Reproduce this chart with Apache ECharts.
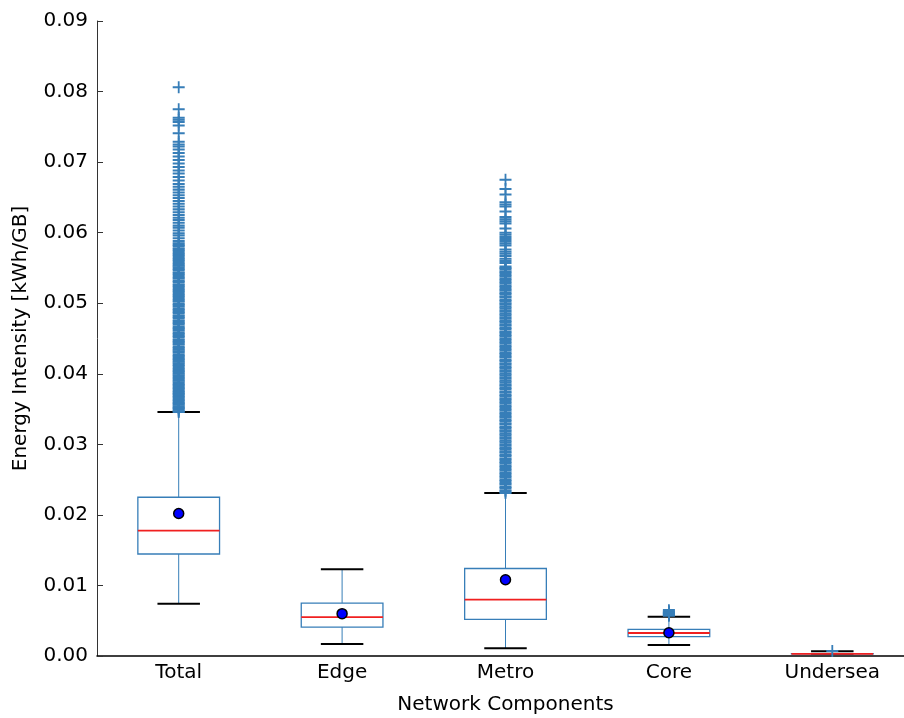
<!DOCTYPE html>
<html>
<head>
<meta charset="utf-8">
<script src="https://cdn.jsdelivr.net/npm/echarts@6/dist/echarts.min.js"></script>
<style>html,body{margin:0;padding:0;background:#fff}#c{width:904px;height:718px}</style>
</head>
<body>
<div id="c"></div>
<script>
const categories = ['Total', 'Edge', 'Metro', 'Core', 'Undersea'];
const yTicks = [0, 0.01, 0.02, 0.03, 0.04, 0.05, 0.06, 0.07, 0.08, 0.09];
// [low whisker, Q1, median, Q3, high whisker]
const boxStats = [
  [0.0074, 0.01446, 0.01776, 0.0225, 0.0346],
  [0.0017, 0.0041, 0.0055, 0.0075, 0.0123],
  [0.0011, 0.0052, 0.0080, 0.0124, 0.0231],
  [0.00156, 0.00274, 0.00326, 0.00378, 0.00557],
  [0.00029, 0.00029, 0.0003, 0.00034, 0.00067]
];
const means = [0.0202, 0.0060, 0.0108, 0.0033, null];
const outliersTotal = [
0.0346,0.0347,0.0349,0.0351,0.0352,0.0354,0.0356,0.0358,0.0359,0.0361,0.0363,0.0365,0.0367,0.0369,0.0371,0.0372,0.0374,0.0376,0.0378,0.0380,0.0382,0.0384,0.0386,0.0388,0.0390,0.0392,0.0394,0.0396,0.0398,0.0400,0.0402,0.0404,0.0406,0.0408,0.0411,0.0413,0.0415,0.0417,0.0419,0.0421,0.0423,0.0425,0.0427,0.0430,0.0432,0.0434,0.0436,0.0438,0.0441,0.0443,0.0445,0.0447,0.0449,0.0452,0.0454,0.0456,0.0458,0.0461,0.0463,0.0465,0.0467,0.0470,0.0472,0.0474,0.0476,0.0479,0.0481,0.0483,0.0486,0.0488,0.0490,0.0492,0.0495,0.0497,0.0499,0.0502,0.0504,0.0506,0.0509,0.0511,0.0513,0.0516,0.0518,0.0520,0.0523,0.0525,0.0527,0.0530,0.0532,0.0535,0.0537,0.0540,0.0542,0.0544,0.0547,0.0549,
0.0551,0.0553,0.0555,0.0557,0.0560,0.0562,0.0564,0.0567,0.0569,0.0571,0.0574,0.0576,0.0578,0.0581,0.0583,0.0585,0.0588,0.0592,0.0596,0.0599,0.0603,0.0607,0.0610,0.0614,0.0618,0.0621,0.0625,0.0629,0.0633,0.0637,0.0641,0.0645,0.0649,0.0653,0.0657,0.0661,0.0665,0.0669,0.0674,0.0679,0.0684,0.0688,0.0693,0.0698,0.0703,0.0708,0.0713,0.0718,0.0722,0.0725,0.0729,
0.0741,0.0752,0.0757,0.0760,0.0763,0.0775,0.0806
];
const outliersEdge = [];
const outliersMetro = [
0.0231,0.0233,0.0235,0.0238,0.0240,0.0243,0.0245,0.0248,0.0250,0.0253,0.0255,0.0258,0.0260,0.0263,0.0265,0.0268,0.0270,0.0273,0.0275,0.0278,0.0280,0.0283,0.0285,0.0288,0.0290,0.0293,0.0295,0.0298,0.0300,0.0303,0.0305,0.0308,0.0310,0.0313,0.0315,0.0318,0.0320,0.0323,0.0325,0.0328,0.0330,0.0333,0.0335,0.0338,0.0340,0.0343,0.0345,0.0348,0.0350,0.0353,0.0355,0.0358,0.0360,0.0363,0.0365,0.0368,0.0370,0.0373,0.0375,0.0378,0.0380,0.0383,0.0385,0.0388,0.0390,0.0393,0.0395,0.0398,0.0400,0.0403,0.0405,0.0408,0.0410,0.0413,0.0415,0.0418,0.0420,0.0423,0.0425,0.0428,0.0430,0.0433,0.0435,0.0438,0.0440,0.0443,0.0445,0.0448,0.0450,0.0453,0.0455,0.0458,0.0460,0.0463,0.0465,0.0468,0.0470,0.0473,0.0475,0.0478,0.0480,0.0483,0.0485,0.0488,0.0490,0.0493,0.0495,0.0498,0.0500,0.0503,0.0505,0.0508,0.0510,0.0513,0.0515,0.0518,0.0520,0.0523,0.0525,0.0528,0.0530,0.0533,0.0535,0.0538,0.0540,0.0543,0.0545,0.0548,0.0550,0.0552,
0.0557,0.0560,0.0563,0.0567,0.0570,0.0573,0.0576,0.0582,0.0585,0.0588,0.0591,0.0594,0.0597,0.0600,0.0606,0.0613,0.0616,0.0619,0.0622,0.0630,0.0637,0.0640,0.0643,0.0654,0.0662,0.0675
];
const outliersCore = [0.0057,0.0058,0.0059,0.0060,0.0061,0.0062,0.0063,0.0065];
const outliersUndersea = [0.0007];
const outlierLists = [outliersTotal, outliersEdge, outliersMetro, outliersCore, outliersUndersea];

const BLUE = '#377eb8';
const FONT = 'DejaVu Sans';

const boxData = boxStats.map((s, i) => [i].concat(s));
const outlierData = [];
outlierLists.forEach((arr, i) => arr.forEach(v => outlierData.push([i, v])));
const meanData = means.map((m, i) => [i, m]).filter(d => d[1] !== null);

const plusPath = 'path://M4.25,0 H5.75 V4.15 H10 V5.85 H5.75 V10 H4.25 V5.85 H0 V4.15 H4.25 Z';

const chart = echarts.init(document.getElementById('c'), null, {renderer: 'canvas'});
chart.setOption({
  animation: false,
  backgroundColor: '#fff',
  grid: {left: 97, right: -10, top: 21, bottom: 62, containLabel: false, outerBoundsMode: 'none'},
  xAxis: {
    type: 'category',
    data: categories,
    boundaryGap: true,
    name: 'Network Components',
    nameLocation: 'middle',
    nameGap: 39,
    nameTextStyle: {fontFamily: FONT, fontSize: 20, color: '#000'},
    axisLine: {lineStyle: {color: '#000', width: 1.5}},
    axisTick: {show: false},
    axisLabel: {fontFamily: FONT, fontSize: 20, color: '#000', margin: 7},
    splitLine: {show: false}
  },
  yAxis: {
    type: 'value',
    min: 0, max: 0.09, interval: 0.01,
    name: 'Energy Intensity [kWh/GB]',
    nameLocation: 'middle',
    nameGap: 66,
    nameRotate: 90,
    nameTextStyle: {fontFamily: FONT, fontSize: 20, color: '#000'},
    axisLine: {show: true, lineStyle: {color: '#333', width: 1}},
    axisTick: {show: true, inside: true, length: 6, lineStyle: {color: '#333', width: 1}},
    axisLabel: {fontFamily: FONT, fontSize: 20, color: '#000', margin: 9,
      formatter: v => yTicks.some(t => Math.abs(t - v) < 1e-9) ? v.toFixed(2) : ''},
    splitLine: {show: false}
  },
  series: [
    {
      type: 'custom',
      z: 2,
      data: boxData,
      encode: {x: 0, y: [1, 2, 3, 4, 5]},
      renderItem: function (params, api) {
        const x = api.value(0);
        const band = api.size([1, 0])[0];
        const pL = api.coord([x, api.value(1)]);
        const p1 = api.coord([x, api.value(2)]);
        const pM = api.coord([x, api.value(3)]);
        const p3 = api.coord([x, api.value(4)]);
        const pH = api.coord([x, api.value(5)]);
        const cx = pL[0];
        const bw = band * 0.5;
        const cw = band * 0.13;
        return {
          type: 'group',
          children: [
            {type: 'line', shape: {x1: cx, y1: pL[1], x2: cx, y2: p1[1]}, style: {stroke: BLUE, lineWidth: 1}},
            {type: 'line', shape: {x1: cx, y1: p3[1], x2: cx, y2: pH[1]}, style: {stroke: BLUE, lineWidth: 1}},
            {type: 'line', shape: {x1: cx - cw, y1: pL[1], x2: cx + cw, y2: pL[1]}, style: {stroke: '#000', lineWidth: 2}},
            {type: 'line', shape: {x1: cx - cw, y1: pH[1], x2: cx + cw, y2: pH[1]}, style: {stroke: '#000', lineWidth: 2}},
            {type: 'rect', shape: {x: cx - bw / 2, y: p3[1], width: bw, height: p1[1] - p3[1]}, style: {fill: 'none', stroke: BLUE, lineWidth: 1.3}},
            {type: 'line', shape: {x1: cx - bw / 2, y1: pM[1], x2: cx + bw / 2, y2: pM[1]}, style: {stroke: '#f02020', lineWidth: 1.8}}
          ]
        };
      }
    },
    {
      type: 'scatter',
      z: 3,
      data: outlierData,
      symbol: plusPath,
      symbolSize: 12,
      itemStyle: {color: BLUE, opacity: 1},
      silent: true
    },
    {
      type: 'scatter',
      z: 4,
      data: meanData,
      symbol: 'circle',
      symbolSize: 10,
      itemStyle: {color: '#0000ff', borderColor: '#000', borderWidth: 1.5, opacity: 1},
      silent: true
    }
  ]
});
</script>
</body>
</html>
